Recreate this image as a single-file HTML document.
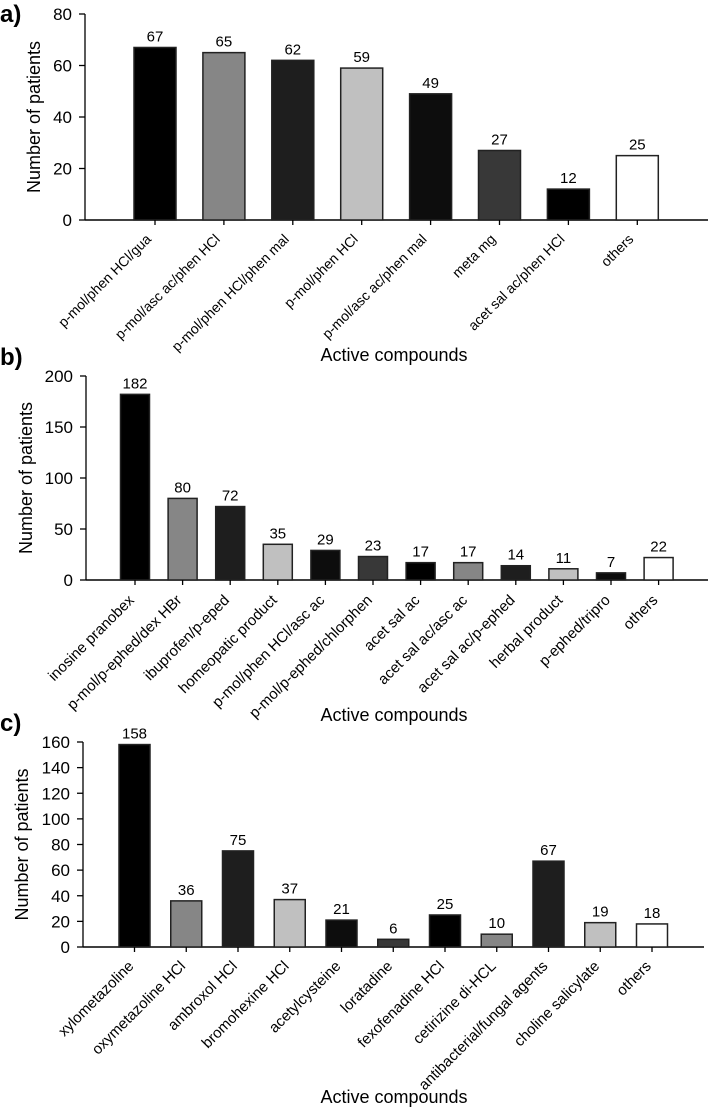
<!DOCTYPE html>
<html><head><meta charset="utf-8">
<style>
body{margin:0;background:#fff;}
svg{display:block;font-family:"Liberation Sans",Arial,sans-serif;}
</style></head>
<body>
<svg id="chart" width="708" height="1107" viewBox="0 0 708 1107"></svg>
<script>
const catsA=["p-mol/phen HCl/gua","p-mol/asc ac/phen HCl","p-mol/phen HCl/phen mal","p-mol/phen HCl","p-mol/asc ac/phen mal","meta mg","acet sal ac/phen HCl","others"];
const valsA=[67,65,62,59,49,27,12,25];
const ticksA=[0,20,40,60,80];
const catsB=["inosine pranobex","p-mol/p-ephed/dex HBr","ibuprofen/p-eped","homeopatic product","p-mol/phen HCl/asc ac","p-mol/p-ephed/chlorphen","acet sal ac","acet sal ac/asc ac","acet sal ac/p-ephed","herbal product","p-ephed/tripro","others"];
const valsB=[182,80,72,35,29,23,17,17,14,11,7,22];
const ticksB=[0,50,100,150,200];
const catsC=["xylometazoline","oxymetazoline HCl","ambroxol HCl","bromohexine HCl","acetylcysteine","loratadine","fexofenadine HCl","cetirizine di-HCL","antibacterial/fungal agents","choline salicylate","others"];
const valsC=[158,36,75,37,21,6,25,10,67,19,18];
const ticksC=[0,20,40,60,80,100,120,140,160];

const fillsA=["#000","#868686","#1e1e1e","#c0c0c0","#0d0d0d","#383838","#000","#fff"];
const fillsB=["#000","#868686","#1e1e1e","#c0c0c0","#0d0d0d","#383838","#000","#868686","#1e1e1e","#c0c0c0","#0d0d0d","#fff"];
const fillsC=["#000","#868686","#1e1e1e","#c0c0c0","#0d0d0d","#383838","#000","#868686","#1e1e1e","#c0c0c0","#fff"];

const svg=document.getElementById('chart');
const NS="http://www.w3.org/2000/svg";
function mk(tag,attrs,parent){const e=document.createElementNS(NS,tag);for(const k in attrs)e.setAttribute(k,attrs[k]);(parent||svg).appendChild(e);return e;}

function panel(p){
  const g=mk('g',{});
  
  
  const yS=v=>p.y0-(v/p.ymax)*(p.y0-p.yTop);
  const xS=i=>p.c0+i*p.step;
  const lab=mk('text',{x:0,y:p.labelY,'font-size':24,'font-weight':'bold',fill:'#000'},g);
  lab.textContent=p.id+')';
  
  
  const ya=mk('line',{x1:p.ax,x2:p.ax,y1:p.yTop,y2:p.y0,stroke:'#000','stroke-width':1.3},g);
  
  
  p.ticks.forEach(t=>{
    mk('line',{x1:p.ax-6,x2:p.ax,y1:yS(t),y2:yS(t),stroke:'#000','stroke-width':1.3},g);
    const tl=mk('text',{x:p.ax-13,y:yS(t)+6,'font-size':17,'text-anchor':'end',fill:'#000'},g);
    tl.textContent=t;
    
    
  });
  const xa=mk('line',{x1:p.ax,x2:p.xEnd,y1:p.y0,y2:p.y0,stroke:'#000','stroke-width':1.5},g);
  
  
  p.cats.forEach((c,i)=>{
    const cx=xS(i),v=p.vals[i];
    const r=mk('rect',{x:cx-p.bw/2,y:yS(v),width:p.bw,height:p.y0-yS(v),fill:p.fills[i],stroke:'#222','stroke-width':1.5},g);
    
    
    const vl=mk('text',{x:cx,y:yS(v)-6,'font-size':15,'text-anchor':'middle',fill:'#000'},g);
    vl.textContent=v;
    
    
    mk('line',{x1:cx,x2:cx,y1:p.y0,y2:p.y0+5,stroke:'#000','stroke-width':1.3},g);
    const ax=cx+p.lx,ay=p.y0+p.ly;
    const xl=mk('text',{x:ax,y:ay,'font-size':p.fs,'text-anchor':'end',fill:'#000',transform:`rotate(-45 ${ax} ${ay})`},g);
    xl.textContent=c;
    
    
  });
  const yt=mk('text',{x:p.ytx,y:(p.yTop+p.y0)/2,'font-size':18,'text-anchor':'middle',fill:'#000',transform:`rotate(-90 ${p.ytx} ${(p.yTop+p.y0)/2})`},g);
  yt.textContent='Number of patients';
  
  
  const xt=mk('text',{x:394,y:p.xtY,'font-size':18,'text-anchor':'middle',fill:'#000'},g);
  xt.textContent='Active compounds';
  
  
}

panel({id:'a',cats:catsA,vals:valsA,ticks:ticksA,fills:fillsA,ymax:80,yTop:14,y0:220,ax:85,xEnd:708,c0:155,step:68.9,bw:42,fs:14,lx:-3,ly:20,labelY:22,ytx:40,xtY:361});
panel({id:'b',cats:catsB,vals:valsB,ticks:ticksB,fills:fillsB,ymax:200,yTop:376,y0:580,ax:86,xEnd:708,c0:135,step:47.6,bw:29,fs:15,lx:0,ly:21,labelY:365,ytx:32,xtY:721});
panel({id:'c',cats:catsC,vals:valsC,ticks:ticksC,fills:fillsC,ymax:160,yTop:742,y0:947,ax:83,xEnd:704,c0:134.5,step:51.75,bw:31,fs:15,lx:0,ly:20,labelY:731,ytx:28,xtY:1103});
</script>
</body></html>
